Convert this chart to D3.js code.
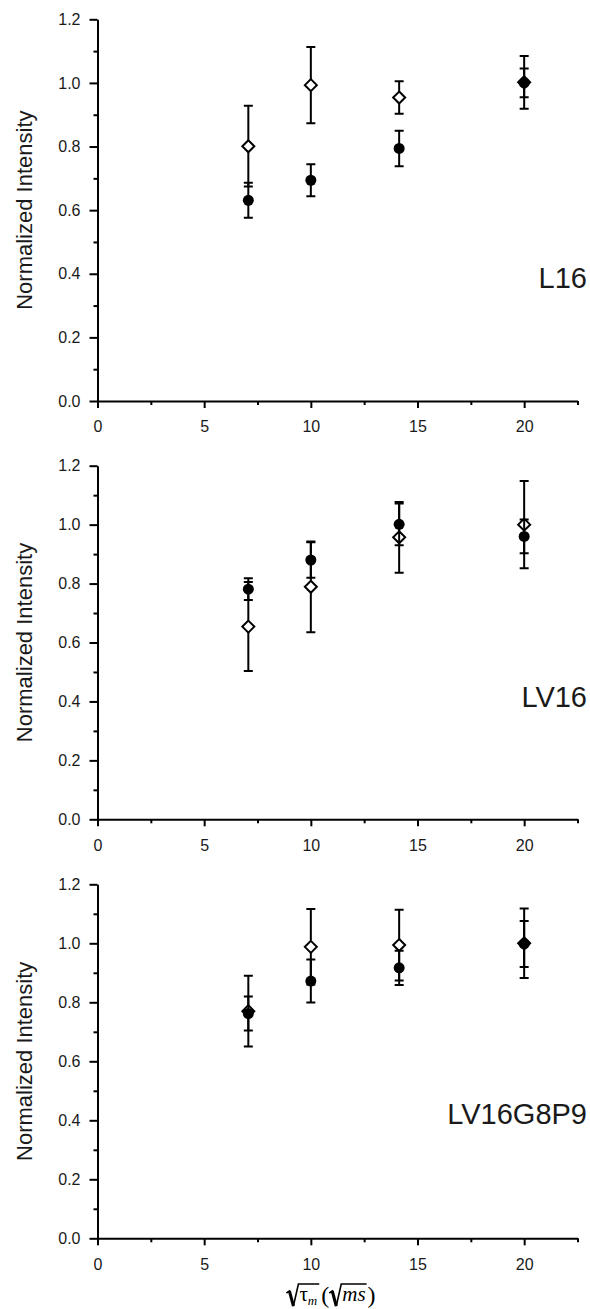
<!DOCTYPE html>
<html>
<head>
<meta charset="utf-8">
<script src="https://cdn.jsdelivr.net/npm/d3@7"></script>
<style>
  body { margin: 0; background: #fff; }
  svg { display: block; }
  .axis path, .axis line { stroke: #000; stroke-width: 2; }
  .axis text { font-family: "Liberation Sans", Arial, sans-serif; font-size: 16px; fill: #1a1a1a; }
</style>
</head>
<body>
<svg id="chart" width="590" height="1309"></svg>
<script>
// sqrt(tau_m) positions and panel data
const xValues = [7.07, 10, 14.14, 20];
const panelNames = ["L16", "LV16", "LV16G8P9"];

const circleValues = [
  [0.631, 0.694, 0.794, 1.000],
  [0.781, 0.880, 1.001, 0.960],
  [0.762, 0.872, 0.917, 0.998]
];
const circleErrors = [
  [0.055, 0.050, 0.056, 0.045],
  [0.037, 0.060, 0.071, 0.057],
  [0.058, 0.073, 0.058, 0.078]
];
const diamondValues = [
  [0.801, 0.993, 0.954, 1.002],
  [0.654, 0.789, 0.957, 1.000],
  [0.770, 0.988, 0.994, 1.000]
];
const diamondErrors = [
  [0.127, 0.120, 0.051, 0.083],
  [0.151, 0.154, 0.120, 0.148],
  [0.120, 0.128, 0.120, 0.118]
];

const xTicks = [0, 5, 10, 15, 20];
const xMinorTicks = [2.5, 7.5, 12.5, 17.5, 22.5];
const yTicks = [0, 0.2, 0.4, 0.6, 0.8, 1.0, 1.2];
const yMinorTicks = [0.1, 0.3, 0.5, 0.7, 0.9, 1.1];

// layout
const svg = d3.select("#chart");
const xLeft = 97.5, xRight = 577.5;
const panelTop = [19.3, 465.7, 884.3];
const panelBottom = [401, 819.3, 1238.3];
const labelBaseline = [288, 707, 1124];
const capHalf = 4.5;
const diamondHalf = 6;
const circleR = 5.5;

const x = d3.scaleLinear().domain([0, 22.5]).range([xLeft, xRight]);

panelNames.forEach(function (name, i) {
  const y = d3.scaleLinear().domain([0, 1.2]).range([panelBottom[i], panelTop[i]]);
  const g = svg.append("g").attr("class", "panel");

  // axes
  g.append("g").attr("class", "axis")
    .attr("transform", `translate(0,${panelBottom[i]})`)
    .call(d3.axisBottom(x).tickValues(xTicks).tickSize(7).tickSizeOuter(0).tickPadding(13)
      .tickFormat(d3.format("d")));
  g.append("g").attr("class", "axis minor")
    .attr("transform", `translate(0,${panelBottom[i]})`)
    .call(d3.axisBottom(x).tickValues(xMinorTicks).tickSize(4).tickFormat(""))
    .select(".domain").remove();

  g.append("g").attr("class", "axis")
    .attr("transform", `translate(${xLeft},0)`)
    .call(d3.axisLeft(y).tickValues(yTicks).tickSize(8).tickSizeOuter(0).tickPadding(9)
      .tickFormat(d3.format(".1f")));
  g.append("g").attr("class", "axis minor")
    .attr("transform", `translate(${xLeft},0)`)
    .call(d3.axisLeft(y).tickValues(yMinorTicks).tickSize(4).tickFormat(""))
    .select(".domain").remove();

  g.append("text")
    .attr("transform", `translate(24,${(panelTop[i] + panelBottom[i]) / 2}) rotate(-90)`)
    .attr("text-anchor", "middle")
    .attr("dy", "0.35em")
    .style("font-family", "'Liberation Sans', Arial, sans-serif")
    .style("font-size", "22px")
    .attr("fill", "#1a1a1a")
    .text("Normalized Intensity");

  g.append("text")
    .attr("x", 587)
    .attr("y", labelBaseline[i])
    .attr("text-anchor", "end")
    .style("font-family", "'Liberation Sans', Arial, sans-serif")
    .style("font-size", "29px")
    .attr("fill", "#1a1a1a")
    .text(name);

  const circles = xValues.map((xv, j) => ({ x: xv, v: circleValues[i][j], e: circleErrors[i][j] }));
  const diamonds = xValues.map((xv, j) => ({ x: xv, v: diamondValues[i][j], e: diamondErrors[i][j] }));

  // error bars, stopping at the symbol edge
  const drawErrors = function (data, gap) {
    const eb = g.append("g").attr("stroke", "#000").attr("stroke-width", 2).attr("fill", "none");
    eb.selectAll("path.err").data(data).join("path")
      .attr("class", "err")
      .attr("d", d => {
        const cx = x(d.x), top = y(d.v + d.e), bot = y(d.v - d.e), c = y(d.v);
        return `M${cx - capHalf},${top}H${cx + capHalf}M${cx},${top}V${c - gap}` +
               `M${cx},${c + gap}V${bot}M${cx - capHalf},${bot}H${cx + capHalf}`;
      });
  };
  drawErrors(diamonds, diamondHalf);
  drawErrors(circles, 0);

  g.selectAll("circle.pt").data(circles).join("circle")
    .attr("class", "pt")
    .attr("cx", d => x(d.x))
    .attr("cy", d => y(d.v))
    .attr("r", circleR)
    .attr("fill", "#000");

  g.selectAll("path.dm").data(diamonds).join("path")
    .attr("class", "dm")
    .attr("transform", d => `translate(${x(d.x)},${y(d.v)})`)
    .attr("d", `M0,${-diamondHalf}L${diamondHalf},0L0,${diamondHalf}L${-diamondHalf},0Z`)
    .attr("fill", "none")
    .attr("stroke", "#000")
    .attr("stroke-width", 2);
});

// x-axis title: sqrt(tau_m) (sqrt(ms)), radicals drawn as paths
const title = svg.append("g").attr("class", "xtitle");
const serif = "'Liberation Serif', 'Times New Roman', serif";
const baseY = 1301, radTop = 1284, radBottom = 1306;
let cursor = 0;

const radical = function (inner) {
  const x0 = cursor;
  const w = 12;
  const start = cursor + w + 1;
  cursor = start;
  inner();
  const end = cursor + 1;
  title.append("path")
    .attr("d", `M${x0},${baseY - 8}L${x0 + 3},${baseY - 10}L${x0 + 7},${radBottom}` +
               `L${x0 + w},${radTop}H${end}`)
    .attr("fill", "none")
    .attr("stroke", "#000")
    .attr("stroke-width", 1.6)
    .attr("stroke-linejoin", "miter");
  // heavier downstroke like the serif radical
  title.append("path")
    .attr("d", `M${x0 + 3},${baseY - 10}L${x0 + 7},${radBottom}`)
    .attr("stroke", "#000").attr("stroke-width", 3);
  cursor = end + 1;
};

const word = function (t, size, style, dy, gapAfter) {
  const el = title.append("text")
    .attr("x", cursor)
    .attr("y", baseY + (dy || 0))
    .style("font-family", serif)
    .style("font-size", size + "px")
    .style("font-style", style)
    .attr("fill", "#000")
    .text(t);
  cursor += el.node().getComputedTextLength() + (gapAfter || 0);
};

radical(() => { word("\u03C4", 21, "normal", 0, 0); word("m", 13, "italic", 4, 1); });
cursor += 1;
word("(", 24, "normal", 2, 0);
radical(() => { word("ms", 21, "italic", 0, 0); });
word(")", 24, "normal", 2, 0);
title.attr("transform", `translate(${331 - cursor / 2},0)`);
</script>
</body>
</html>
